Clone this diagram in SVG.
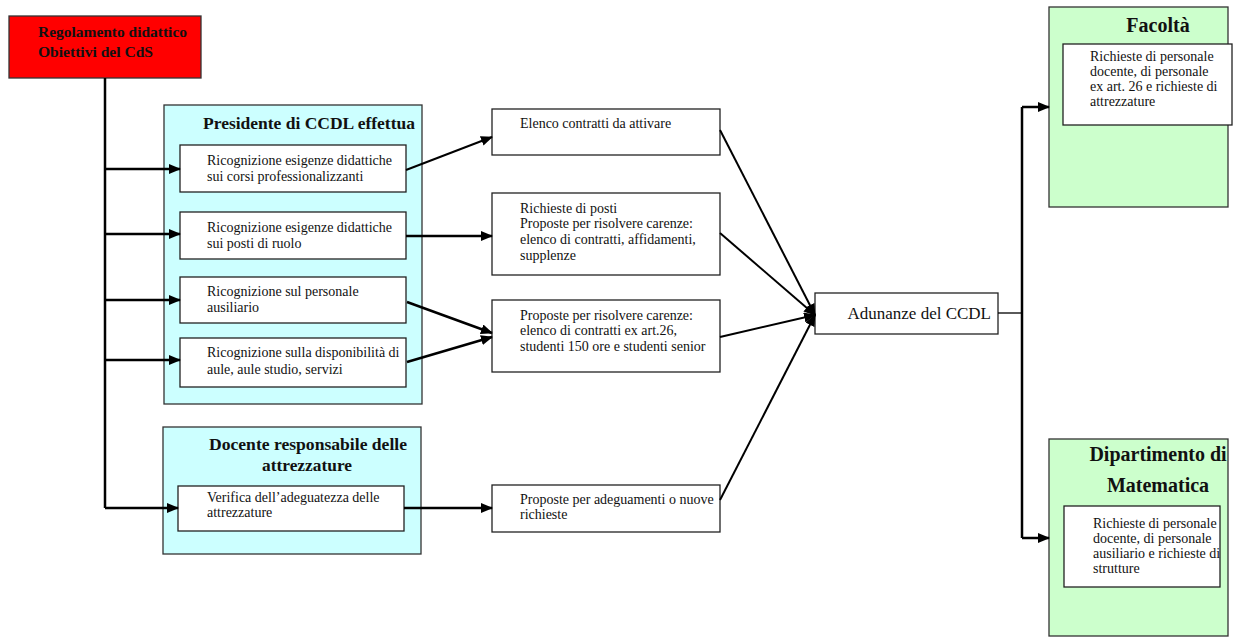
<svg xmlns="http://www.w3.org/2000/svg" width="1236" height="640" viewBox="0 0 1236 640">
<style>
.t{font-family:"Liberation Serif","Times New Roman",serif;font-size:14px;fill:#111}
.b{font-weight:bold}
.box{fill:#fff;stroke:#222;stroke-width:1.3}
.cy{fill:#ccffff;stroke:#333;stroke-width:1.3}
.gr{fill:#ccffcc;stroke:#333;stroke-width:1.3}
.c{fill:none;stroke:#000;stroke-width:2.5}
.c2{fill:none;stroke:#000;stroke-width:2}
</style>
<defs>
<marker id="ah" markerUnits="userSpaceOnUse" markerWidth="12" markerHeight="10" refX="11" refY="5" orient="auto">
<path d="M0,0 L12,5 L0,10 z" fill="#000"/>
</marker>
</defs>
<rect width="1236" height="640" fill="#fff"/>

<g id="regolamento">
<rect x="9" y="16" width="192" height="62" fill="#ff0000" stroke="#333" stroke-width="1.3"/>
<text class="t b" x="38" y="37" textLength="149" lengthAdjust="spacingAndGlyphs">Regolamento didattico</text>
<text class="t b" x="38" y="57" textLength="115" lengthAdjust="spacingAndGlyphs">Obiettivi del CdS</text>
</g>

<g id="presidente">
<rect class="cy" x="164" y="105" width="258" height="299"/>
<text class="t b" x="203" y="129" style="font-size:16px" textLength="212" lengthAdjust="spacingAndGlyphs">Presidente di CCDL effettua</text>
</g>
<g id="ric1">
<rect class="box" x="180" y="145" width="226" height="47"/>
<text class="t" x="207" y="165">Ricognizione esigenze didattiche</text>
<text class="t" x="207" y="181">sui corsi professionalizzanti</text>
</g>
<g id="ric2">
<rect class="box" x="180" y="212" width="226" height="47"/>
<text class="t" x="207" y="232">Ricognizione esigenze didattiche</text>
<text class="t" x="207" y="248">sui posti di ruolo</text>
</g>
<g id="ric3">
<rect class="box" x="180" y="277" width="226" height="46"/>
<text class="t" x="207" y="296">Ricognizione sul personale</text>
<text class="t" x="207" y="312">ausiliario</text>
</g>
<g id="ric4">
<rect class="box" x="180" y="338" width="226" height="49"/>
<text class="t" x="207" y="357">Ricognizione sulla disponibilità di</text>
<text class="t" x="207" y="374">aule, aule studio, servizi</text>
</g>

<g id="docente">
<rect class="cy" x="163" y="427" width="258" height="127"/>
<text class="t b" x="209" y="450" style="font-size:16px" textLength="198" lengthAdjust="spacingAndGlyphs">Docente responsabile delle</text>
<text class="t b" x="262" y="471" style="font-size:16px" textLength="90" lengthAdjust="spacingAndGlyphs">attrezzature</text>
</g>
<g id="verifica">
<rect class="box" x="178" y="486" width="226" height="45"/>
<text class="t" x="207" y="502">Verifica dell’adeguatezza delle</text>
<text class="t" x="207" y="517">attrezzature</text>
</g>

<g id="elenco">
<rect class="box" x="492" y="109" width="228" height="46"/>
<text class="t" x="520" y="128">Elenco contratti da attivare</text>
</g>
<g id="richieste">
<rect class="box" x="492" y="193" width="228" height="82"/>
<text class="t" x="520" y="213">Richieste di posti</text>
<text class="t" x="520" y="228">Proposte per risolvere carenze:</text>
<text class="t" x="520" y="244">elenco di contratti, affidamenti,</text>
<text class="t" x="520" y="260">supplenze</text>
</g>
<g id="proposte">
<rect class="box" x="492" y="300" width="228" height="72"/>
<text class="t" x="520" y="320">Proposte per risolvere carenze:</text>
<text class="t" x="520" y="335">elenco di contratti ex art.26,</text>
<text class="t" x="520" y="351">studenti 150 ore e studenti senior</text>
</g>
<g id="adeguamenti">
<rect class="box" x="492" y="485" width="228" height="47"/>
<text class="t" x="520" y="504">Proposte per adeguamenti o nuove</text>
<text class="t" x="520" y="519">richieste</text>
</g>

<g id="adunanze">
<rect class="box" x="815" y="293" width="183" height="41"/>
<text class="t" x="991" y="319" text-anchor="end" style="font-size:17px">Adunanze del CCDL</text>
</g>

<g id="facolta">
<rect class="gr" x="1049" y="7" width="179" height="200"/>
<text class="t b" x="1158" y="32" text-anchor="middle" style="font-size:20px">Facoltà</text>
<rect class="box" x="1063" y="44" width="169" height="81"/>
<text class="t" x="1090" y="61">Richieste di personale</text>
<text class="t" x="1090" y="76">docente, di personale</text>
<text class="t" x="1090" y="91">ex art. 26 e richieste di</text>
<text class="t" x="1090" y="106">attrezzature</text>
</g>

<g id="dipartimento">
<rect class="gr" x="1049" y="439" width="179" height="197"/>
<text class="t b" x="1158" y="461" text-anchor="middle" style="font-size:20px">Dipartimento di</text>
<text class="t b" x="1158" y="492" text-anchor="middle" style="font-size:20px">Matematica</text>
<rect class="box" x="1064" y="506" width="156" height="81"/>
<text class="t" x="1093" y="528">Richieste di personale</text>
<text class="t" x="1093" y="543">docente, di personale</text>
<text class="t" x="1093" y="558">ausiliario e richieste di</text>
<text class="t" x="1093" y="573">strutture</text>
</g>

<g id="connectors">
<path class="c" d="M105,78 V508"/>
<path class="c" d="M105,169 H180" marker-end="url(#ah)"/>
<path class="c" d="M105,234 H180" marker-end="url(#ah)"/>
<path class="c" d="M105,300 H180" marker-end="url(#ah)"/>
<path class="c" d="M105,360 H180" marker-end="url(#ah)"/>
<path class="c" d="M105,508 H178" marker-end="url(#ah)"/>
<path class="c2" d="M406,170 L492,137" marker-end="url(#ah)"/>
<path class="c" d="M406,236 H492" marker-end="url(#ah)"/>
<path class="c" d="M407,302 L492,333" marker-end="url(#ah)"/>
<path class="c" d="M407,362 L492,337" marker-end="url(#ah)"/>
<path class="c" d="M404,508 H492" marker-end="url(#ah)"/>
<path class="c2" d="M720,130 L815,315" marker-end="url(#ah)"/>
<path class="c2" d="M720,233 L815,315" marker-end="url(#ah)"/>
<path class="c2" d="M720,337 L815,315" marker-end="url(#ah)"/>
<path class="c2" d="M720,500 L815,315" marker-end="url(#ah)"/>
<path fill="none" stroke="#000" stroke-width="1.3" d="M998,313 H1022"/>
<path class="c" d="M1022,107 V538"/>
<path class="c" d="M1022,107 H1049" marker-end="url(#ah)"/>
<path class="c" d="M1022,538 H1049" marker-end="url(#ah)"/>
</g>
</svg>
